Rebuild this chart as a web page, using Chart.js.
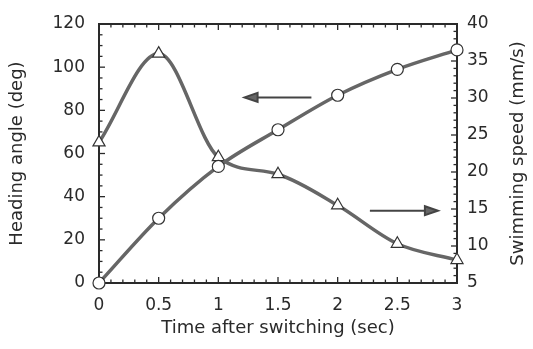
<!DOCTYPE html>
<html>
<head>
<meta charset="utf-8">
<script src="https://cdn.jsdelivr.net/npm/chart.js@4/dist/chart.umd.min.js"></script>
<style>
  html, body { margin: 0; padding: 0; background: #fff; }
  #wrap { width: 533px; height: 349px; }
</style>
</head>
<body>
<div id="wrap"><canvas id="myChart"></canvas></div>
<script>
// values
const timeSec = [0, 0.5, 1, 1.5, 2, 2.5, 3];
const headingDeg = [0, 30, 54, 71, 87, 99, 108];
const speedMms = [24, 36, 22, 19.7, 15.5, 10.3, 8.1];

const xTicks = [0, 0.5, 1, 1.5, 2, 2.5, 3];
const headingTicks = [0, 20, 40, 60, 80, 100, 120];
const speedTicks = [5, 10, 15, 20, 25, 30, 35, 40];

// arrows: [x from, x to, y on heading axis]
const leftArrow = [1.78, 1.22, 86];
const rightArrow = [2.27, 2.84, 33.5];

const ink = '#2a2a2a';
const font = 'DejaVu Sans';
const rightTitle = 'Swimming speed (mm/s)';

const frameTicks = {
  id: 'frameTicks',
  beforeDatasetsDraw(chart) {
    const c = chart.ctx;
    const a = chart.chartArea;
    const x = chart.scales.x, y = chart.scales.y, y1 = chart.scales.y1;
    c.save();
    c.strokeStyle = ink;
    c.lineWidth = 1.3;
    // x: major every 0.5, minor every 0.1
    for (let i = 0; i <= 30; i++) {
      const px = x.getPixelForValue(i / 10);
      const len = i % 5 === 0 ? 6 : 3.5;
      c.beginPath();
      c.moveTo(px, a.bottom); c.lineTo(px, a.bottom - len);
      c.moveTo(px, a.top); c.lineTo(px, a.top + len);
      c.stroke();
    }
    // left: major every 20, minor every 5
    for (let v = 0; v <= 120; v += 5) {
      const py = y.getPixelForValue(v);
      const len = v % 20 === 0 ? 6 : 3.5;
      c.beginPath();
      c.moveTo(a.left, py); c.lineTo(a.left + len, py);
      c.stroke();
    }
    // right: major every 5, minor every 1
    for (let v = 5; v <= 40; v += 1) {
      const py = y1.getPixelForValue(v);
      const len = v % 5 === 0 ? 6 : 3.5;
      c.beginPath();
      c.moveTo(a.right, py); c.lineTo(a.right - len, py);
      c.stroke();
    }
    c.lineWidth = 2;
    c.strokeRect(a.left, a.top, a.right - a.left, a.bottom - a.top);
    c.restore();
  },
  afterDatasetsDraw(chart) {
    const c = chart.ctx;
    const a = chart.chartArea;
    const x = chart.scales.x, y = chart.scales.y;
    c.save();
    c.strokeStyle = '#444';
    c.fillStyle = '#666';
    c.lineWidth = 2;
    [leftArrow, rightArrow].forEach(ar => {
      const x0 = x.getPixelForValue(ar[0]);
      const x1 = x.getPixelForValue(ar[1]);
      const py = y.getPixelForValue(ar[2]);
      const dir = Math.sign(x1 - x0);
      c.beginPath();
      c.moveTo(x0, py); c.lineTo(x1 - dir * 10, py);
      c.stroke();
      c.beginPath();
      c.moveTo(x1, py);
      c.lineTo(x1 - dir * 13, py - 4.5);
      c.lineTo(x1 - dir * 13, py + 4.5);
      c.closePath();
      c.fill();
      c.stroke();
    });
    // right axis title reads bottom-to-top
    c.fillStyle = ink;
    c.font = '18px "' + font + '"';
    c.textAlign = 'center';
    c.textBaseline = 'middle';
    c.translate(518, (a.top + a.bottom) / 2);
    c.rotate(-Math.PI / 2);
    c.fillText(rightTitle, 0, 0);
    c.restore();
  }
};

const ctx = document.getElementById('myChart');
new Chart(ctx, {
  type: 'line',
  data: {
    datasets: [
      {
        label: 'Heading angle',
        data: timeSec.map((t, i) => ({ x: t, y: headingDeg[i] })),
        yAxisID: 'y',
        borderColor: '#666',
        borderWidth: 3.5,
        cubicInterpolationMode: 'monotone',
        clip: false,
        pointStyle: 'circle',
        pointRadius: 6,
        pointBackgroundColor: '#fff',
        pointBorderColor: '#333',
        pointBorderWidth: 1.2
      },
      {
        label: 'Swimming speed',
        data: timeSec.map((t, i) => ({ x: t, y: speedMms[i] })),
        yAxisID: 'y1',
        borderColor: '#666',
        borderWidth: 3.5,
        cubicInterpolationMode: 'monotone',
        clip: false,
        pointStyle: 'triangle',
        pointRadius: 7,
        pointBackgroundColor: '#fff',
        pointBorderColor: '#333',
        pointBorderWidth: 1.2
      }
    ]
  },
  options: {
    responsive: true,
    maintainAspectRatio: false,
    animation: false,
    layout: { padding: { top: 24, left: 0, right: 0, bottom: 0 } },
    plugins: { legend: { display: false }, tooltip: { enabled: false } },
    scales: {
      x: {
        type: 'linear',
        min: 0, max: 3,
        afterBuildTicks: s => { s.ticks = xTicks.map(v => ({ value: v })); },
        afterFit: s => { s.height = 66; },
        grid: { display: false },
        border: { display: false },
        ticks: { color: ink, font: { family: font, size: 17 }, padding: 4, maxRotation: 0, callback: v => String(v) },
        title: { display: true, text: 'Time after switching (sec)', color: ink, font: { family: font, size: 18 }, padding: { top: 2, bottom: 10 } }
      },
      y: {
        position: 'left',
        min: 0, max: 120,
        afterBuildTicks: s => { s.ticks = headingTicks.map(v => ({ value: v })); },
        afterFit: s => { s.width = 99; },
        grid: { display: false },
        border: { display: false },
        ticks: { color: ink, font: { family: font, size: 17 }, padding: 6 },
        title: { display: true, text: 'Heading angle (deg)', color: ink, font: { family: font, size: 18 }, padding: { top: 7, bottom: 0 } }
      },
      y1: {
        position: 'right',
        min: 5, max: 40,
        afterBuildTicks: s => { s.ticks = speedTicks.map(v => ({ value: v })); },
        afterFit: s => { s.width = 76; },
        grid: { display: false },
        border: { display: false },
        ticks: { color: ink, font: { family: font, size: 17 }, padding: 2 },
        title: { display: false }
      }
    }
  },
  plugins: [frameTicks]
});
</script>
</body>
</html>
